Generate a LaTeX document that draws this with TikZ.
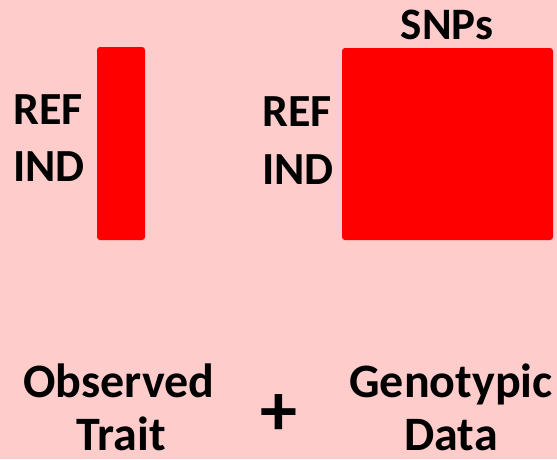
\documentclass[tikz,border=0pt]{standalone}
\usepackage{fontspec}
\setmainfont{Carlito}
\definecolor{bgpink}{HTML}{FFCCCC}
\definecolor{redbox}{HTML}{FF0000}
\begin{document}
\begin{tikzpicture}[x=1pt,y=-1pt,
  lbl/.style={font=\bfseries\fontsize{46}{46}\selectfont, inner sep=0pt, anchor=base west},
  big/.style={font=\bfseries\fontsize{48}{48}\selectfont, inner sep=0pt, anchor=base},
  blk/.style={fill=redbox, draw=none, rounded corners=3pt}]
\fill[bgpink] (0,0) rectangle (557,459);
\useasboundingbox (0,0) rectangle (557,459);
\path[blk] (97,47) rectangle (145,240);
\path[blk] (342,48) rectangle (553,240);
\node[lbl] (ref1) at (13,124) {REF};
\node[lbl] (ind1) at (13,181) {IND};
\node[lbl] (ref2) at (262,126) {REF};
\node[lbl] (ind2) at (262,184) {IND};
\node[lbl, font=\bfseries\fontsize{45}{45}\selectfont, anchor=base] (snps) at (447,39) {SNPs};
\node[big] (obs) at (119,397) {Observed};
\node[big] (trait) at (121,450) {Trait};
\node[big, font=\bfseries\fontsize{74}{74}\selectfont, anchor=mid] (plus) at (279,433) {+};
\node[big] (geno) at (451,397) {Genotypic};
\node[big] (data) at (451,450) {Data};
\end{tikzpicture}
\end{document}
